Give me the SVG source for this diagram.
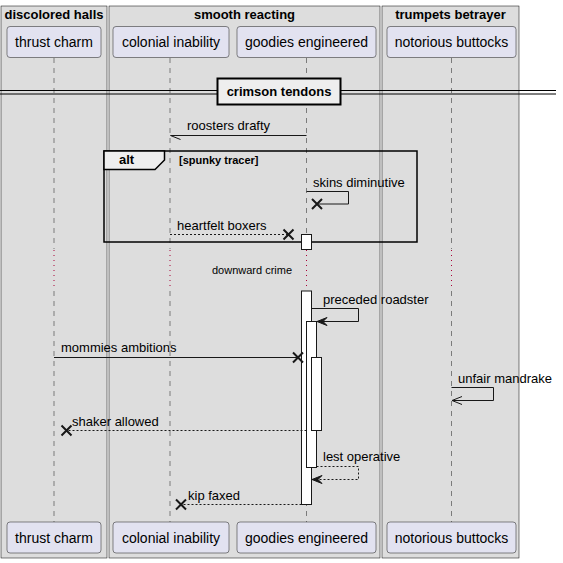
<svg xmlns="http://www.w3.org/2000/svg" width="563" height="563" viewBox="0 0 563 563">
<style>
text{font-family:"Liberation Sans",Arial,sans-serif;fill:#000}
.box{fill:#DDDDDD;stroke:#000;stroke-width:0.5}
.bt{font-size:13px;font-weight:bold;text-anchor:middle}
.p rect{fill:#E2E2F0;stroke:#181818;stroke-width:0.5}
.p text{font-size:14px;text-anchor:middle}
.ll{stroke:#181818;stroke-width:0.5;stroke-dasharray:5,5;fill:none}
.dl{stroke:#A80036;stroke-width:1;stroke-dasharray:1,4;fill:none}
.m{font-size:13px}
.s{stroke:#181818;stroke-width:1;fill:none}
.d{stroke:#181818;stroke-width:1;fill:none;stroke-dasharray:2,2}
.x{stroke:#181818;stroke-width:2;fill:none}
.act{fill:#FFFFFF;stroke:#181818;stroke-width:1}
</style>
<rect width="563" height="563" fill="#FFFFFF"/>
<g id="boxes">
<rect class="box" x="1" y="6" width="106" height="552"/>
<text class="bt" x="54" y="19">discolored halls</text>
<rect class="box" x="109" y="6" width="271" height="552"/>
<text class="bt" x="244.5" y="19">smooth reacting</text>
<rect class="box" x="382" y="6" width="137" height="552"/>
<text class="bt" x="450.5" y="19">trumpets betrayer</text>
</g>
<g id="lifelines">
<path class="ll" d="M54,58V249M54,291V522"/>
<path class="ll" d="M170,58V249M170,291V522"/>
<path class="ll" d="M306.5,58V249M306.5,291V522"/>
<path class="ll" d="M451.5,58V249M451.5,291V522"/>
<path class="dl" d="M54,250V290M170,250V290M306.5,250V290M451.5,250V290"/>
</g>
<g id="p-thrust-charm" class="p">
<rect x="7" y="26.5" width="94" height="31" rx="3"/><text x="54" y="47">thrust charm</text>
<rect x="7" y="522" width="94" height="31" rx="3"/><text x="54" y="542.5">thrust charm</text>
</g>
<g id="p-colonial-inability" class="p">
<rect x="113" y="26.5" width="116" height="31" rx="3"/><text x="171" y="47">colonial inability</text>
<rect x="113" y="522" width="116" height="31" rx="3"/><text x="171" y="542.5">colonial inability</text>
</g>
<g id="p-goodies-engineered" class="p">
<rect x="237" y="26.5" width="139" height="31" rx="3"/><text x="306.5" y="47">goodies engineered</text>
<rect x="237" y="522" width="139" height="31" rx="3"/><text x="306.5" y="542.5">goodies engineered</text>
</g>
<g id="p-notorious-buttocks" class="p">
<rect x="387" y="26.5" width="129" height="31" rx="3"/><text x="451.5" y="47">notorious buttocks</text>
<rect x="387" y="522" width="129" height="31" rx="3"/><text x="451.5" y="542.5">notorious buttocks</text>
</g>
<g id="divider">
<path d="M0,90.5H556M0,94H556" stroke="#000" stroke-width="1" fill="none"/>
<rect x="217.5" y="78.5" width="123" height="26" fill="#EEEEEE" stroke="#000" stroke-width="2"/>
<text class="bt" x="279" y="96">crimson tendons</text>
</g>
<g id="alt-frame">
<rect x="104" y="151" width="313" height="91" fill="none" stroke="#000" stroke-width="1.5"/>
<path d="M104,151H164.5V160L155,169.5H104Z" fill="#EEEEEE" stroke="#000" stroke-width="1.5"/>
<text x="119" y="164" font-size="13" font-weight="bold">alt</text>
<text x="179" y="164" font-size="11" font-weight="bold">[spunky tracer]</text>
</g>
<g id="activations">
<rect class="act" x="301.5" y="234.5" width="10" height="15"/>
<rect class="act" x="301.5" y="291" width="10" height="213.5"/>
<rect class="act" x="306.5" y="321.5" width="10" height="146"/>
<rect class="act" x="311.5" y="357.5" width="10" height="73"/>
</g>
<g id="connectors">
<path class="s" d="M306.5,135.5H170.5M170.5,135.5L180.5,139.5"/>
<text class="m" x="187" y="130">roosters drafty</text>
<path class="s" d="M306.5,191.5H348.5V204H317"/>
<path class="x" d="M312,199L322,209M312,209L322,199"/>
<text class="m" x="313" y="187">skins diminutive</text>
<path class="d" d="M170,234.5H288"/>
<path class="x" d="M283.5,229.5L293.5,239.5M283.5,239.5L293.5,229.5"/>
<text class="m" x="177" y="230">heartfelt boxers</text>
<text x="252" y="274" font-size="11" text-anchor="middle">downward crime</text>
<path class="s" d="M311.5,308.5H358.5V321.5H317"/>
<path d="M317,321.5L327,317.5L323,321.5L327,325.5Z" fill="#181818" stroke="#181818" stroke-width="1"/>
<text class="m" x="323" y="304">preceded roadster</text>
<path class="s" d="M54,357.5H298"/>
<path class="x" d="M293,352.5L303,362.5M293,362.5L303,352.5"/>
<text class="m" x="61" y="352">mommies ambitions</text>
<path class="s" d="M451.5,387.5H493.5V400.5H452M452,400.5L462,396.5M452,400.5L462,404.5"/>
<text class="m" x="458" y="383">unfair mandrake</text>
<path class="d" d="M306.5,430.5H66.5"/>
<path class="x" d="M61.5,425.5L71.5,435.5M61.5,435.5L71.5,425.5"/>
<text class="m" x="72" y="426">shaker allowed</text>
<path class="d" d="M316.5,466.5H358.5V479.5H312"/>
<path d="M312,479.5L322,475.5L318,479.5L322,483.5Z" fill="#181818" stroke="#181818" stroke-width="1"/>
<text class="m" x="323" y="461">lest operative</text>
<path class="d" d="M301.5,504.5H181"/>
<path class="x" d="M176,499.5L186,509.5M176,509.5L186,499.5"/>
<text class="m" x="188" y="500">kip faxed</text>
</g>
</svg>
